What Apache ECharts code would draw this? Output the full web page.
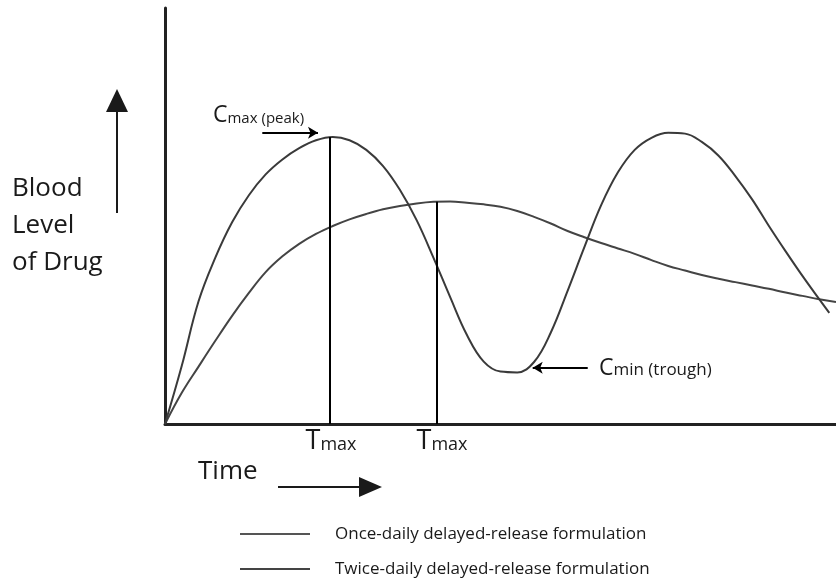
<!DOCTYPE html>
<html>
<head>
<meta charset="utf-8">
<script src="https://cdn.jsdelivr.net/npm/echarts@6/dist/echarts.min.js"></script>
<style>
  html, body { margin: 0; padding: 0; background: #fff; }
  #chart { width: 836px; height: 581px; }
</style>
</head>
<body>
<div id="chart"></div>
<script>
// schematic units: time 0-100, blood level 0-100
const onceTime = [0, 2.5, 5, 7.5, 10, 12.5, 15, 17.5, 20, 22.5, 25, 27.5, 30, 32.5, 35, 37.5, 40, 42.5, 45, 47.5, 50,
  52.5, 55, 57.5, 60, 62.5, 65, 67.5, 70, 72.5, 75, 77.5, 80, 82.5, 85, 87.5, 90, 92.5, 95, 97.5, 100]
const onceLevel = [0, 7.5, 13.8, 20, 26, 31.5, 36.5, 40.3, 43.3, 45.7, 47.6, 49.2, 50.5, 51.6, 52.4, 53.0, 53.4, 53.5, 53.2, 52.8, 52.2,
  51.2, 49.8, 48.2, 46.4, 44.9, 43.5, 42.2, 40.9, 39.4, 38, 36.9, 35.8, 34.9, 34.1, 33.3, 32.5, 31.6, 30.8, 30.0, 29.3]

const twiceTime = [0, 2.5, 5, 7.5, 10, 12.5, 15, 17.5, 20, 22.5, 25, 27.5, 30, 32.5, 35, 37.5, 40, 42.5, 45, 47.5, 50,
  52.5, 55, 57.5, 60, 62.5, 65, 67.5, 70, 72.5, 75, 77.5, 80, 82.5, 85, 87.5, 90, 92.5, 95, 97.5, 99]
const twiceLevel = [0, 14, 29.5, 40, 48.5, 55, 60, 63.6, 66.3, 68.2, 69, 68.2, 65.9, 62, 56.3, 49, 40, 30.5, 21.4, 15, 12.6,
  12.4, 14.9, 22, 32, 42.5, 52.6, 60.5, 65.9, 68.8, 70, 69.8, 67.8, 64.5, 59.6, 54, 47.6, 41.5, 35.6, 30, 26.7]

const seriesNames = ['Once-daily delayed-release formulation', 'Twice-daily delayed-release formulation']
const tmaxTimes = [24.6, 40.5]
const tmaxLevels = [69.0, 53.4]
const cmaxArrow = [[14.5, 70.0], [22.8, 70.0]]
const cminArrow = [[63.0, 13.5], [54.8, 13.5]]

const FONT = '"Open Sans", "Noto Sans", sans-serif'
const INK = '#1a1a1a'

function pairs (xs, ys) {
  return xs.map((x, i) => [x, ys[i]])
}

let myChart = echarts.init(document.getElementById('chart'), null, { renderer: 'canvas' })

let axisCommon = {
  type: 'value',
  min: 0,
  max: 100,
  axisLine: { show: true, lineStyle: { color: '#222', width: 3 } },
  axisTick: { show: false },
  axisLabel: { show: false },
  splitLine: { show: false }
}

let option = {
  animation: false,
  backgroundColor: '#fff',
  textStyle: { fontFamily: FONT },
  grid: { left: 165, top: 8, right: 0, bottom: 157 },
  xAxis: axisCommon,
  yAxis: axisCommon,
  legend: {
    orient: 'vertical',
    left: 240,
    top: 524,
    padding: 0,
    itemWidth: 70,
    itemHeight: 2,
    itemGap: 15,
    icon: 'rect',
    data: seriesNames,
    textStyle: { fontFamily: FONT, fontSize: 17, lineHeight: 20, color: INK, padding: [0, 0, 0, 20] }
  },
  series: [
    {
      name: seriesNames[0],
      type: 'line',
      smooth: 0.4,
      showSymbol: false,
      data: pairs(onceTime, onceLevel),
      itemStyle: { color: '#555' },
      lineStyle: { color: '#444', width: 2 },
      markLine: {
        silent: true,
        symbol: ['none', 'none'],
        label: { show: false },
        lineStyle: { color: '#000', width: 2, type: 'solid' },
        data: [
          [{ coord: [tmaxTimes[1], 0] }, { coord: [tmaxTimes[1], tmaxLevels[1]] }]
        ]
      }
    },
    {
      name: seriesNames[1],
      type: 'line',
      smooth: 0.4,
      showSymbol: false,
      data: pairs(twiceTime, twiceLevel),
      itemStyle: { color: '#444' },
      lineStyle: { color: '#3a3a3a', width: 2 },
      markLine: {
        silent: true,
        symbol: ['none', 'none'],
        label: { show: false },
        lineStyle: { color: '#000', width: 2, type: 'solid' },
        data: [
          [{ coord: [tmaxTimes[0], 0] }, { coord: [tmaxTimes[0], tmaxLevels[0]] }],
          // arrows pointing at the peak and trough
          [{ coord: cmaxArrow[0], symbol: 'none' }, { coord: cmaxArrow[1], symbol: 'arrow', symbolSize: [9, 10] }],
          [{ coord: cminArrow[0], symbol: 'none' }, { coord: cminArrow[1], symbol: 'arrow', symbolSize: [9, 10] }]
        ]
      }
    }
  ],
  graphic: [
    // y axis caption + arrow
    {
      type: 'text', left: 12, top: 170,
      style: { text: 'Blood\nLevel\nof Drug', font: '26px ' + FONT, lineHeight: 37, fill: INK }
    },
    { type: 'line', shape: { x1: 117, y1: 213, x2: 117, y2: 108 }, style: { stroke: INK, lineWidth: 2 } },
    { type: 'polygon', shape: { points: [[117, 89], [106, 112], [128, 112]] }, style: { fill: INK } },
    // x axis caption + arrow
    {
      type: 'text', left: 198, top: 459,
      style: { text: 'Time', font: '26px ' + FONT, fill: INK }
    },
    { type: 'line', shape: { x1: 278, y1: 487, x2: 365, y2: 487 }, style: { stroke: INK, lineWidth: 2 } },
    { type: 'polygon', shape: { points: [[382, 487], [359, 477], [359, 497]] }, style: { fill: INK } },
    // Tmax labels
    {
      type: 'text', x: 331, y: 455,
      style: {
        text: '{T|T}{m|max}', align: 'center', verticalAlign: 'bottom',
        rich: { T: { font: '27px ' + FONT, fill: INK, verticalAlign: 'bottom' }, m: { font: '18px ' + FONT, fill: INK, verticalAlign: 'bottom', padding: [0, 0, 1, 0] } }
      }
    },
    {
      type: 'text', x: 442, y: 455,
      style: {
        text: '{T|T}{m|max}', align: 'center', verticalAlign: 'bottom',
        rich: { T: { font: '27px ' + FONT, fill: INK, verticalAlign: 'bottom' }, m: { font: '18px ' + FONT, fill: INK, verticalAlign: 'bottom', padding: [0, 0, 1, 0] } }
      }
    },
    // Cmax / Cmin labels
    {
      type: 'text', x: 213, y: 127,
      style: {
        text: '{C|C}{s|max (peak)}', align: 'left', verticalAlign: 'bottom',
        rich: { C: { font: '23px ' + FONT, fill: INK, verticalAlign: 'bottom' }, s: { font: '15px ' + FONT, fill: INK, verticalAlign: 'bottom', padding: [0, 0, 1, 0] } }
      }
    },
    {
      type: 'text', x: 599, y: 380,
      style: {
        text: '{C|C}{s|min (trough)}', align: 'left', verticalAlign: 'bottom',
        rich: { C: { font: '23px ' + FONT, fill: INK, verticalAlign: 'bottom' }, s: { font: '17px ' + FONT, fill: INK, verticalAlign: 'bottom', padding: [0, 0, 1, 0] } }
      }
    }
  ]
}

myChart.setOption(option)
</script>
</body>
</html>
